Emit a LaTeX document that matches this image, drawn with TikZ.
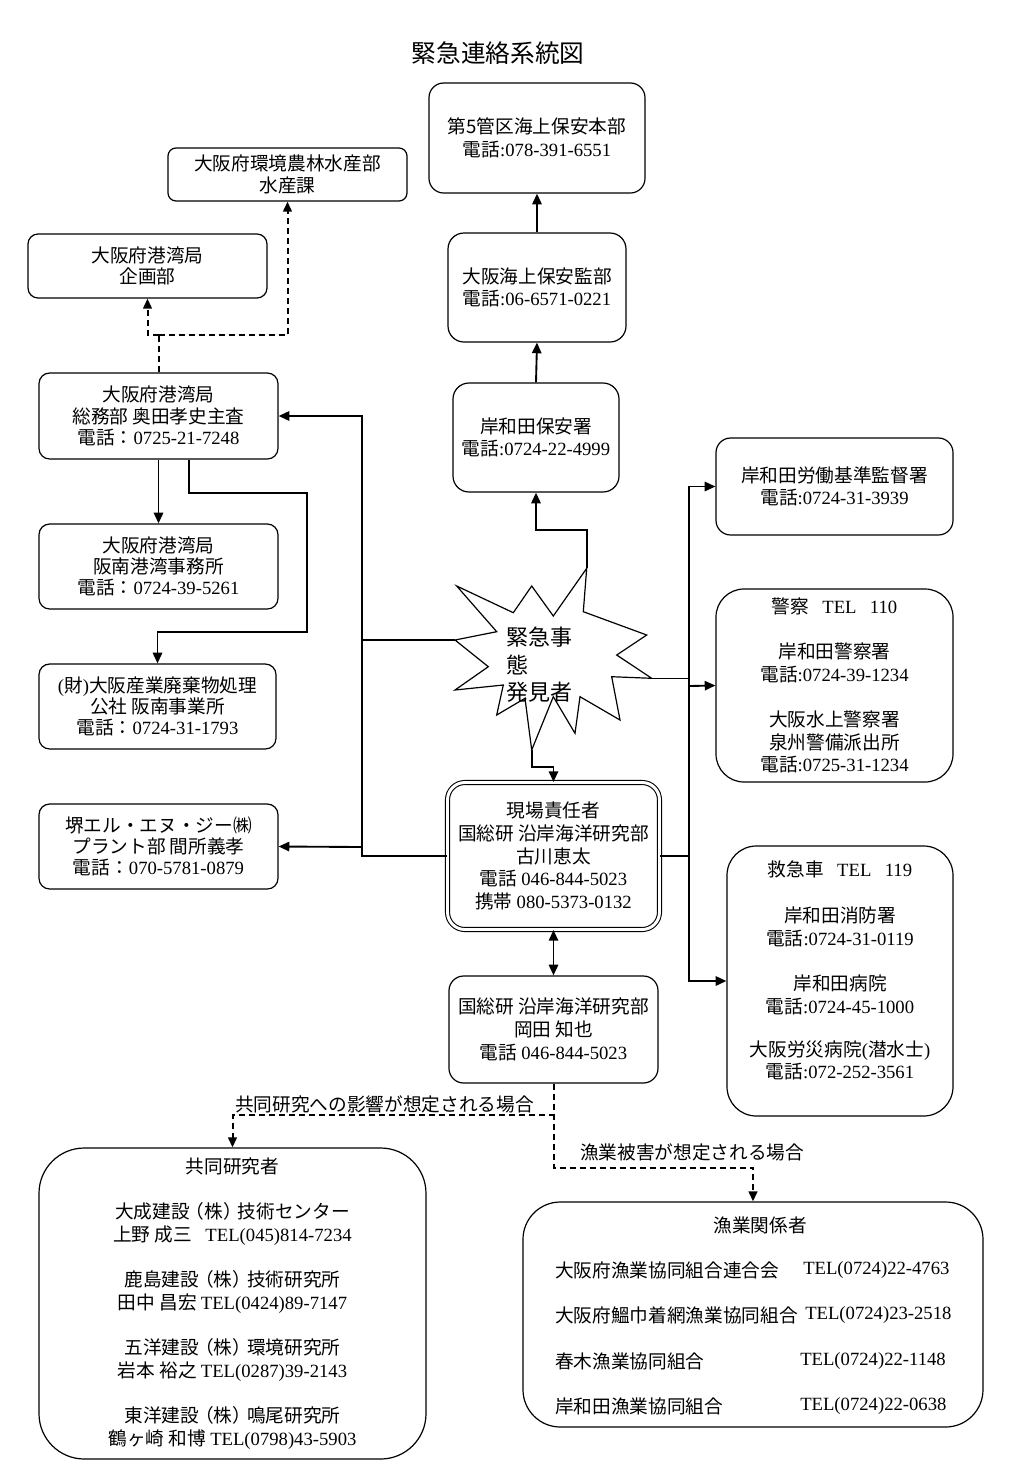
\documentclass[tikz,border=0pt]{standalone}
\usepackage{fontspec}
\setmainfont{Noto Sans CJK JP}
\newfontfamily\tmfont{Liberation Serif}
\newcommand\T[1]{{\tmfont #1}}
\newcommand\kabu{\kern-3pt（株）\kern-3pt}
\usetikzlibrary{arrows.meta,calc}
\begin{document}
\begin{tikzpicture}[x=0.75pt,y=-0.75pt,
  box/.style={draw, line width=0.9pt, fill=white, align=center, inner sep=0pt, rounded corners=#1, font=\fontsize{14pt}{17pt}\selectfont},
  box/.default=9pt,
  lbox/.style={box=#1, font=\fontsize{14pt}{16pt}\selectfont},
  lbox/.default=8pt,
  txt/.style={inner sep=0pt, font=\fontsize{14pt}{17pt}\selectfont},
  conn/.style={line width=1.4pt, -{Triangle[length=8pt,width=7pt]}},
  twoway/.style={line width=1.4pt, {Triangle[length=8pt,width=7pt]}-{Triangle[length=8pt,width=7pt]}},
  wire/.style={line width=1.4pt},
  thinwire/.style={line width=0.9pt},
  dashwire/.style={line width=1.5pt, dash pattern=on 4.5pt off 3pt},
  dasharrow/.style={dashwire, -{Triangle[length=7.5pt,width=6.5pt]}}
]
\useasboundingbox (0,0) rectangle (1024,1479);

% title
\node[font=\fontsize{18.5pt}{20pt}\selectfont] (title) at (498,53) {緊急連絡系統図};

% coast guard chain
\node[box=11pt, minimum width=162pt, minimum height=82.5pt] (honbu) at (537,138) {第5管区海上保安本部\\電話\T{:078-391-6551}};
\node[box=12pt, minimum width=133.5pt, minimum height=81.75pt] (kanbu) at (537,287.5) {大阪海上保安監部\\電話\T{:06-6571-0221}};
\node[box=12pt, minimum width=124.5pt, minimum height=81.75pt] (hoan) at (536,437.5) {岸和田保安署\\電話\T{:0724-22-4999}};

% right column
\node[box=11pt, minimum width=177.75pt, minimum height=72.75pt] (roudou) at (834.5,486.5) {岸和田労働基準監督署\\電話\T{:0724-31-3939}};
\node[box=21pt, minimum width=177.75pt, minimum height=144.75pt] (keisatsu) at (834.5,685.5) {警察\hspace{10pt}\T{TEL\hspace{10pt}110}\\[17pt]岸和田警察署\\電話\T{:0724-39-1234}\\[17pt]大阪水上警察署\\泉州警備派出所\\電話\T{:0725-31-1234}};
\node[box=22pt, minimum width=169.5pt, minimum height=202.5pt] (kyukyu) at (840,981) {救急車\hspace{10pt}\T{TEL\hspace{10pt}119}\\[18pt]岸和田消防署\\電話\T{:0724-31-0119}\\[17pt]岸和田病院\\電話\T{:0724-45-1000}\\[15pt]大阪労災病院\T{(}潜水士\T{)}\\電話\T{:072-252-3561}\\\mbox{}};

% left column
\node[lbox=6pt, minimum width=179.25pt, minimum height=39.75pt] (kankyo) at (287.5,174.5) {大阪府環境農林水産部\\水産課};
\node[lbox=7.5pt, minimum width=179.25pt, minimum height=48pt] (kikaku) at (147.5,266) {大阪府港湾局\\企画部};
\node[lbox, minimum width=179.25pt, minimum height=64.5pt] (somu) at (158.5,416) {大阪府港湾局\\総務部 奥田孝史主査\\電話：\T{0725-21-7248}};
\node[lbox, minimum width=179.25pt, minimum height=63.75pt] (hannan) at (158.5,566.5) {大阪府港湾局\\阪南港湾事務所\\電話：\T{0724-39-5261}};
\node[lbox, minimum width=177.75pt, minimum height=63.75pt] (zai) at (157.5,706.5) {\T{(}財\T{)}大阪産業廃棄物処理\\公社 阪南事業所\\電話：\T{0724-31-1793}};
\node[lbox, minimum width=179.25pt, minimum height=63.75pt] (sakai) at (158.5,846.5) {堺エル・エヌ・ジー㈱\\プラント部 間所義孝\\電話：\T{070-5781-0879}};

% centre
\node[box=13pt, double, double distance=2.2pt, line width=0.8pt, minimum width=159pt, minimum height=110.25pt] (main) at (553.5,856) {現場責任者\\国総研 沿岸海洋研究部\\古川恵太\\電話 \T{046-844-5023}\\携帯 \T{080-5373-0132}};
\node[box=11pt, minimum width=156.75pt, minimum height=80.25pt] (okada) at (553.5,1029.5) {国総研 沿岸海洋研究部\\岡田 知也\\電話 \T{046-844-5023}};

% bottom boxes
\node[box=34pt, minimum width=290.25pt, minimum height=233.25pt] (kyodo) at (232.5,1303.5) {共同研究者\\[17pt]大成建設\kabu 技術センター\\上野 成三\hspace{10pt}\T{TEL(045)814-7234}\\[17pt]鹿島建設\kabu 技術研究所\\田中 昌宏 \T{TEL(0424)89-7147}\\[17pt]五洋建設\kabu 環境研究所\\岩本 裕之 \T{TEL(0287)39-2143}\\[17pt]東洋建設\kabu 鳴尾研究所\\鶴ヶ崎 和博 \T{TEL(0798)43-5903}};
\node[box=28pt, minimum width=345pt, minimum height=168.75pt] (gyogyo) at (753,1314.5) {};
\node[txt] (gyh) at (760,1225) {漁業関係者};
\node[txt, anchor=west] (g1) at (555,1270) {大阪府漁業協同組合連合会};
\node[txt, anchor=west] (g1t) at (803,1270) {\T{TEL(0724)22-4763}};
\node[txt, anchor=west] (g2) at (555,1315) {大阪府鰮巾着網漁業協同組合};
\node[txt, anchor=west] (g2t) at (805,1315) {\T{TEL(0724)23-2518}};
\node[txt, anchor=west] (g3) at (555,1361) {春木漁業協同組合};
\node[txt, anchor=west] (g3t) at (800,1361) {\T{TEL(0724)22-1148}};
\node[txt, anchor=west] (g4) at (555,1406) {岸和田漁業協同組合};
\node[txt, anchor=west] (g4t) at (800,1406) {\T{TEL(0724)22-0638}};

% star
\coordinate (stT) at (586.7,568.3);
\coordinate (stL) at (455,640);
\coordinate (stR) at (651.7,678.3);
\coordinate (stB) at (531.7,750);
\draw[line width=0.9pt, fill=white] (stT) -- (583.3,611.7) -- (646.7,635) -- (616.7,655) -- (stR)
  -- (611.7,676.7) -- (620,720) -- (580,696.7) -- (575,733.3) -- (553.3,696.7) -- (stB)
  -- (525,698.3) -- (496.7,715) -- (503.3,685) -- (455,690) -- (488.3,666.7) -- (stL)
  -- (496.7,631.7) -- (456.7,586) -- (513.3,612.7) -- (531.7,586) -- (553.3,616) -- cycle;
\node[font=\fontsize{16.5pt}{20.6pt}\selectfont, align=left, anchor=west, inner sep=0pt] (startext) at (506,665) {緊急事\\態\\発見者};

% connectors
\draw[conn] (kanbu.north) -- (honbu.south);
\draw[conn] (hoan.north) -- (kanbu.south);
\draw[conn] (stT) -- ++(0,-38) -| (hoan.south);
\draw[conn] (stB) -- ++(0,17) -| (main.north);
\draw[conn] (main.west) -| (362,416) -- (somu.east);
\draw[conn] (362,847) -- (sakai.east);
\draw[thinwire] (stL) -- (362,640);
\draw[conn] (main.east) -| (689,486.5) -- (roudou.west);
\draw[conn] (689,686) -- (keisatsu.west);
\draw[conn] (689,856) |- (kyukyu.west);
\draw[thinwire] (stR) -- (689,678.3);
\draw[conn] (somu.south) -- (hannan.north);
\draw[conn] ($(somu.south)+(30.5,0)$) -- ++(0,33) -| (307,632) -| (zai.north);
\draw[dashwire] (somu.north) -- (158.5,335);
\draw[dasharrow] (158.5,335) -| (kikaku.south);
\draw[dasharrow] (158.5,335) -| (kankyo.south);
\draw[twoway] (main.south) -- (okada.north);
\draw[dasharrow] (okada.south) -- ++(0,31) -| (kyodo.north);
\draw[dasharrow] (okada.south) -- ++(0,84) -| (gyogyo.north);
\node[txt, anchor=west] (lab1) at (235,1104) {共同研究への影響が想定される場合};
\node[txt, anchor=west] (lab2) at (580,1152) {漁業被害が想定される場合};
\end{tikzpicture}
\end{document}
